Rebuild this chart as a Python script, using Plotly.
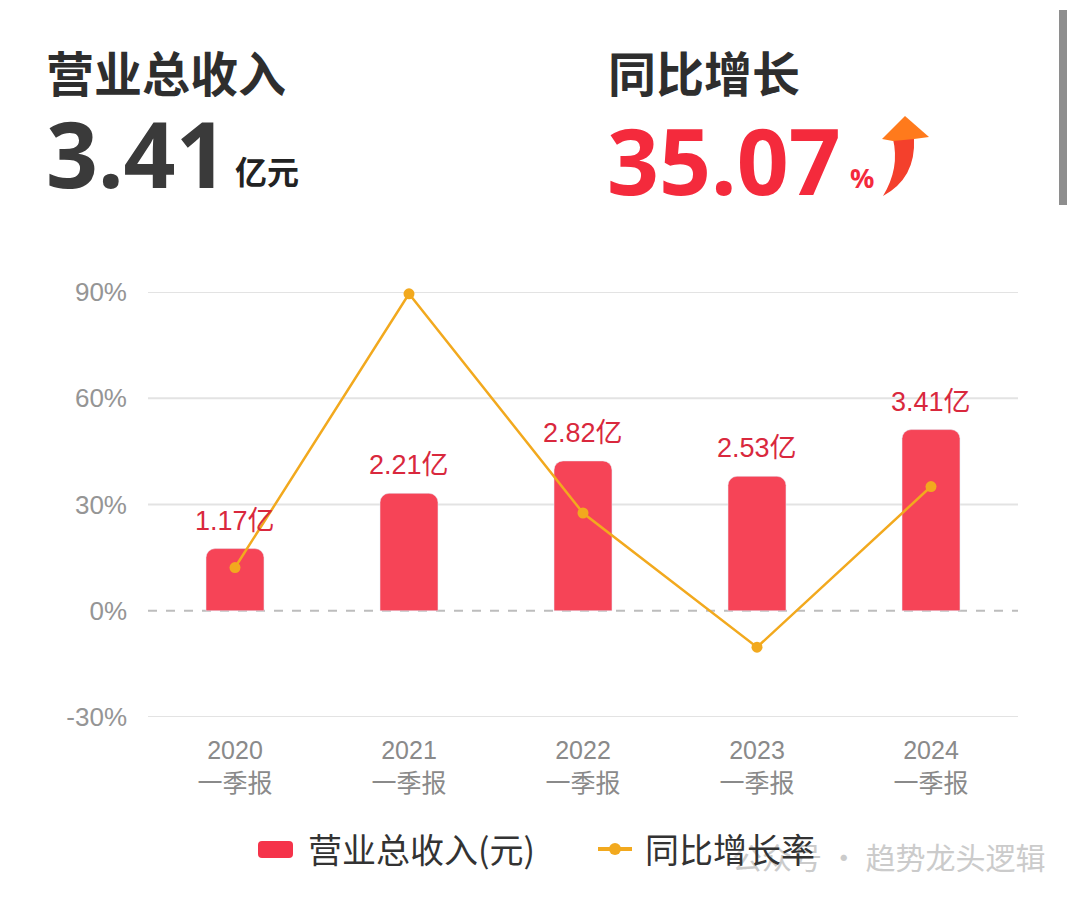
import plotly.graph_objects as go

categories = ["2020<br>一季报", "2021<br>一季报", "2022<br>一季报", "2023<br>一季报", "2024<br>一季报"]
revenue = [1.17, 2.21, 2.82, 2.53, 3.41]          # 亿元
revenue_labels = ["1.17亿", "2.21亿", "2.82亿", "2.53亿", "3.41亿"]
growth = [12.2, 89.5, 27.6, -10.3, 35.07]          # %
pct_ticks = [-30, 0, 30, 60, 90]
pct_tick_text = ["-30%", "0%", "30%", "60%", "90%"]

# target-pixel layout (page has an 8px body margin)
OFF = 8
FW, FH = 1064, 882
L, R, T, B = 148, 1018, 292, 717

def px(x):
    return (x - L) / (R - L)

def py(y):
    return (B - y) / (B - T)

CJK = "Noto Sans CJK SC"
NUM = "Liberation Sans, Noto Sans CJK SC"
BAR_C = "#F64457"
LINE_C = "#F2A91E"

fig = go.Figure()
fig.add_trace(go.Bar(
    x=categories, y=revenue, name="营业总收入(元)", yaxis="y",
    marker=dict(color=BAR_C, cornerradius=9),
    width=0.333, showlegend=False,
))
fig.add_trace(go.Scatter(
    x=categories, y=growth, name="同比增长率", mode="lines+markers", yaxis="y2",
    line=dict(color=LINE_C, width=2.5),
    marker=dict(color=LINE_C, size=11),
    cliponaxis=False, showlegend=False,
))

shapes = []
for v in pct_ticks:
    if v == 0:
        continue
    shapes.append(dict(type="line", xref="paper", yref="y2", x0=0, x1=1, y0=v, y1=v,
                       line=dict(color="#E3E3E3", width=2), layer="below"))
shapes.append(dict(type="line", xref="paper", yref="y2", x0=0, x1=1, y0=0, y1=0,
                   line=dict(color="#BDBDBD", width=2, dash="dash"), layer="below"))

# up arrow icon
arrow_head = f"M {px(882)},{py(139)} L {px(905)},{py(116)} L {px(929)},{py(137)} L {px(914)},{py(139)} L {px(893)},{py(141)} Z"
arrow_shaft = (f"M {px(893)},{py(139)} L {px(914)},{py(139)} "
               f"Q {px(916)},{py(178)} {px(883)},{py(196)} "
               f"Q {px(900)},{py(168)} {px(893)},{py(139)} Z")
shapes.append(dict(type="path", xref="paper", yref="paper", path=arrow_shaft,
                   fillcolor="#F4402C", line=dict(width=0)))
shapes.append(dict(type="path", xref="paper", yref="paper", path=arrow_head,
                   fillcolor="#FF7A1C", line=dict(width=0)))
# scrollbar
shapes.append(dict(type="rect", xref="paper", yref="paper", x0=px(1059), x1=px(1067),
                   y0=py(205), y1=py(10), fillcolor="#8E8E8E", line=dict(width=0)))

# custom legend symbols
def rrect(x0, y0, x1, y1, r):
    return (f"M {px(x0+r)},{py(y0)} L {px(x1-r)},{py(y0)} Q {px(x1)},{py(y0)} {px(x1)},{py(y0+r)} "
            f"L {px(x1)},{py(y1-r)} Q {px(x1)},{py(y1)} {px(x1-r)},{py(y1)} "
            f"L {px(x0+r)},{py(y1)} Q {px(x0)},{py(y1)} {px(x0)},{py(y1-r)} "
            f"L {px(x0)},{py(y0+r)} Q {px(x0)},{py(y0)} {px(x0+r)},{py(y0)} Z")
shapes.append(dict(type="path", xref="paper", yref="paper", path=rrect(258, 841, 293, 858, 4),
                   fillcolor="#F5334A", line=dict(width=0)))
shapes.append(dict(type="line", xref="paper", yref="paper", x0=px(598), x1=px(632), y0=py(849), y1=py(849),
                   line=dict(color=LINE_C, width=4)))
shapes.append(dict(type="circle", xref="paper", yref="paper", x0=px(609), x1=px(621), y0=py(843), y1=py(855),
                   fillcolor=LINE_C, line=dict(width=0)))

ann = []
def text(x, y, s, size, color, anchor="left", bold=False, family=CJK, yanchor="middle"):
    ann.append(dict(xref="paper", yref="paper", x=px(x), y=py(y), text=(f"<b>{s}</b>" if bold else s),
                    showarrow=False, xanchor=anchor, yanchor=yanchor,
                    font=dict(size=size, color=color, family=family)))

# watermark first (under legend text)
text(1047, 856, "公众号 · 趋势龙头逻辑", 30, "#CBCBCB", anchor="right")
text(44, 71, "营业总收入", 48, "#2E2E2E", bold=True)
text(44, 153, "3.41", 91, "#3A3A3A", bold=True, family="Noto Sans")
text(233, 170, "亿元", 32, "#222222", bold=True)
text(606, 71, "同比增长", 48, "#2E2E2E", bold=True)
text(605, 160, "35.07", 91, "#F42A3C", bold=True, family="Noto Sans")
text(848, 177, "%", 27, "#F42A3C", bold=True, family="Noto Sans")
text(306, 848, "营业总收入(元)", 34, "#333333")
text(643, 848, "同比增长率", 34, "#333333")

# value labels above bars, placed through the data scales
for c, v, lab in zip(categories, revenue, revenue_labels):
    ann.append(dict(xref="x", yref="y", x=c, y=v, text=lab, showarrow=False,
                    xanchor="center", yanchor="bottom", yshift=11,
                    font=dict(size=27, color="#D9283D", family=NUM)))

fig.update_layout(
    width=FW, height=FH,
    margin=dict(l=L - OFF, r=OFF + FW - R, t=T - OFF, b=OFF + FH - B),
    paper_bgcolor="white", plot_bgcolor="white",
    showlegend=False,
    xaxis=dict(showgrid=False, showline=False, ticks="", zeroline=False,
               tickfont=dict(size=25, color="#8A8A8A", family=NUM), ticklabelstandoff=16),
    yaxis=dict(range=[-2, 6], showgrid=False, zeroline=False, showticklabels=False, ticks=""),
    yaxis2=dict(range=[-30, 90], overlaying="y", side="left", tickvals=pct_ticks, ticktext=pct_tick_text,
                showgrid=False, zeroline=False, ticks="", showline=False, ticklabelstandoff=20,
                tickfont=dict(size=26, color="#959595", family="Liberation Sans")),
    shapes=shapes, annotations=ann,
)

fig.write_html("out.html")
